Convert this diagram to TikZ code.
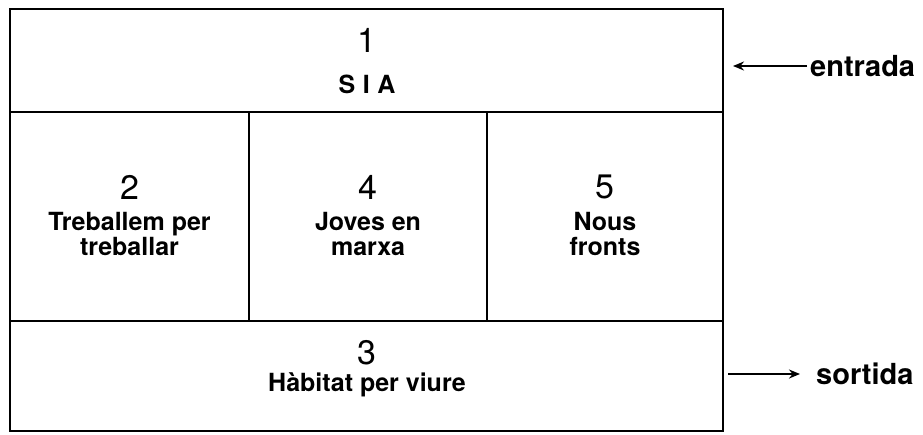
\documentclass[tikz,border=0pt]{standalone}
\usepackage{fontspec}
\setmainfont{TeX Gyre Heros}
\usetikzlibrary{arrows.meta}
\begin{document}
\begin{tikzpicture}[x=1pt,y=-1pt,
  cell/.style={draw,line width=1.8pt,inner sep=0pt},
  num/.style={font=\fontsize{34}{34}\selectfont,inner sep=0pt},
  lab/.style={font=\fontsize{25}{25}\bfseries\selectfont,align=center,inner sep=0pt},
  side/.style={font=\fontsize{29}{29}\bfseries\selectfont,inner sep=0pt,anchor=west},
  arr/.style={line width=2.8pt,-{Stealth[length=11pt,width=9pt]}}]
\useasboundingbox (0,0) rectangle (923,434);
% boxes
\node[cell,minimum width=713pt,minimum height=103pt] (b1) at (366.5,60.5) {};
\node[cell,minimum width=239pt,minimum height=209pt] (b2) at (129.5,216.5) {};
\node[cell,minimum width=238pt,minimum height=209pt] (b4) at (368,216.5) {};
\node[cell,minimum width=236pt,minimum height=209pt] (b5) at (605,216.5) {};
\node[cell,minimum width=713pt,minimum height=110pt] (b3) at (366.5,376) {};
% texts
\node[num] (n1) at (367,40) {1};
\node[lab] (t1) at (367,84) {S\hspace{0.3em}I\hspace{0.3em}A};
\node[num] (n2) at (129.5,187) {2};
\node[lab] (t2) at (129.5,234) {Treballem per\\treballar};
\node[num] (n4) at (368,187) {4};
\node[lab] (t4) at (368,234) {Joves en\\marxa};
\node[num] (n5) at (605,187) {5};
\node[lab] (t5) at (605,234) {Nous\\fronts};
\node[num] (n3) at (367,353) {3};
\node[lab] (t3) at (367,385) {Hàbitat per viure};
% side labels
\node[side] (en) at (810,66) {entrada};
\node[side] (so) at (816,374) {sortida};
\coordinate (enend) at (733,66);
\coordinate (sostart) at (728,374);
\draw[arr] (en.west) ++(-3,0) -- (enend);
\draw[arr] (sostart) -- ([xshift=-16pt]so.west);
\end{tikzpicture}
\end{document}
